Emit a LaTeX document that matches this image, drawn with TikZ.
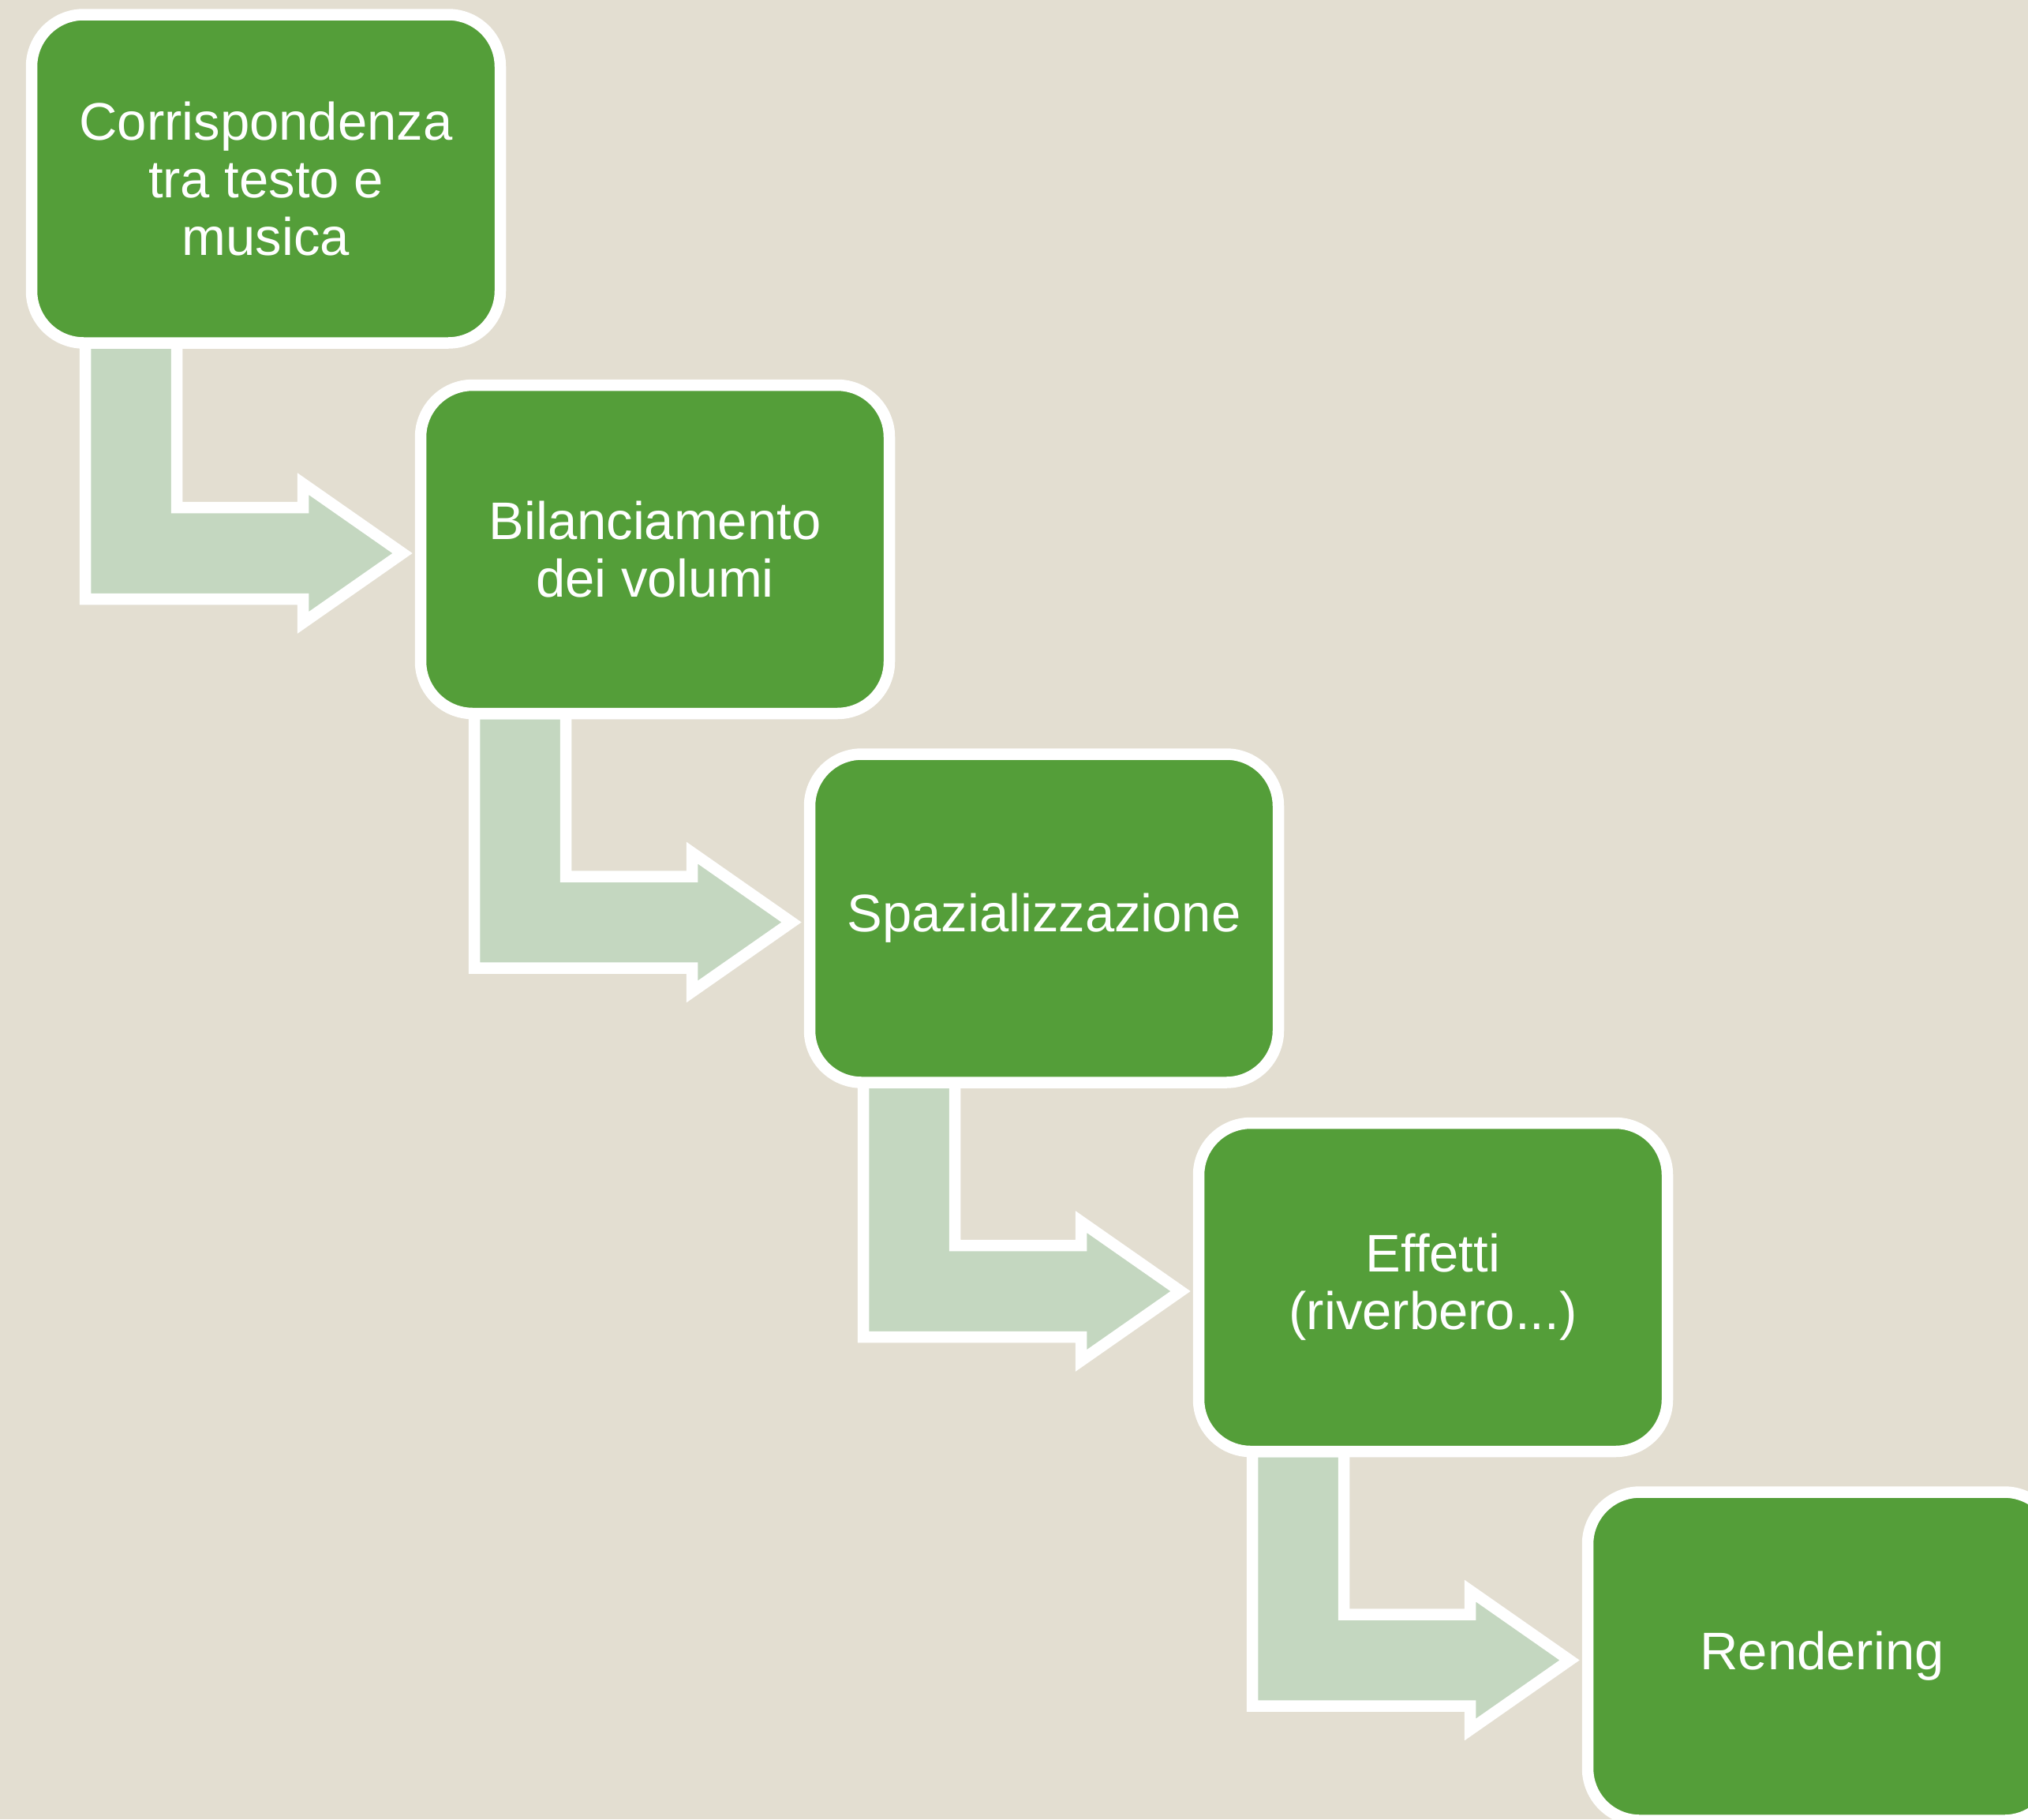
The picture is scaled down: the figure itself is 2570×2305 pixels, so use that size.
\documentclass[tikz,border=0pt]{standalone}
\usepackage{fontspec}
\setmainfont{Liberation Sans}
\usetikzlibrary{calc}
\pgfdeclarelayer{bg}
\pgfsetlayers{bg,main}
\definecolor{bgcol}{HTML}{E3DED1}
\definecolor{boxgreen}{HTML}{549E39}
\definecolor{arrowfill}{HTML}{C4D7C0}
\tikzset{
  stepbox/.style={draw=white, line width=14.5pt, fill=boxgreen, rounded corners=66pt,
    minimum width=594pt, minimum height=416pt, inner sep=0pt, align=center,
    text=white, font=\fontsize{67}{73}\selectfont},
  bentarrow/.style={draw=white, line width=14.5pt, fill=arrowfill, line join=miter}
}
\newcommand{\bentarrow}[2]{%
  \draw[bentarrow] let \p1=(#1.center), \p2=(#2.center) in
    (\x1-229pt,\y1-208pt) -- (\x1-229pt,\y2-63pt) -- (\x1+47pt,\y2-63pt)
    -- (\x1+47pt,\y2-93pt) -- (\x1+173pt,\y2-5pt) -- (\x1+47pt,\y2+83pt)
    -- (\x1+47pt,\y2+53pt) -- (\x1-113pt,\y2+53pt) -- (\x1-113pt,\y1-208pt) -- cycle;}
\begin{document}
\begin{tikzpicture}[x=1pt,y=-1pt]
\useasboundingbox (0,0) rectangle (2570,2305);
\begin{pgfonlayer}{bg}
  \fill[bgcol] (0,0) rectangle (2570,2305);
\end{pgfonlayer}
\node[stepbox] (b1) at (337,226.5) {Corrispondenza\\tra testo e\\musica};
\node[stepbox] (b2) at (830,696) {Bilanciamento\\dei volumi};
\node[stepbox] (b3) at (1323,1163.5) {Spazializzazione};
\node[stepbox] (b4) at (1816,1631) {Effetti\\(riverbero...)};
\node[stepbox] (b5) at (2309,2098.5) {Rendering};
\begin{pgfonlayer}{bg}
  \bentarrow{b1}{b2}
  \bentarrow{b2}{b3}
  \bentarrow{b3}{b4}
  \bentarrow{b4}{b5}
\end{pgfonlayer}
\end{tikzpicture}
\end{document}
